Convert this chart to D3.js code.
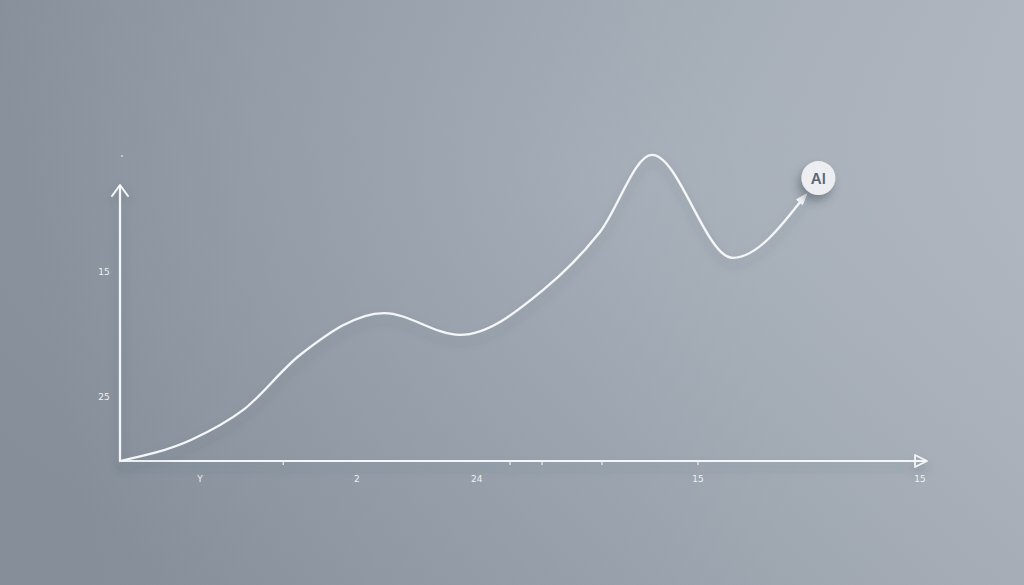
<!DOCTYPE html>
<html><head><meta charset="utf-8">
<script src="https://cdn.jsdelivr.net/npm/d3@7/dist/d3.min.js"></script>
<style>html,body{margin:0;padding:0;overflow:hidden;background:#9aa3ae}</style>
</head><body>
<script>
// data (domain units)
const curveX = [0, 9, 15.4, 22.5, 33, 42.5, 52.9, 60, 66.5, 76.6, 85.6];
const curveY = [0, 7.8, 18.5, 38.4, 53.6, 45.7, 62, 83, 110.9, 73.6, 96];
const xLabels = ["Y", "2", "24", "15", "15"];
const xLabelPos = [10, 29.6, 44.6, 72.25, 100];
const xTickPos = [20.4, 48.75, 52.75, 60.25, 72.25];
const yLabels = ["15", "25"];
const yLabelPos = [68.5, 23.2];
const badgeText = "AI";

const W = 1024, H = 585;
const svg = d3.select("body").append("svg").attr("width", W).attr("height", H);
const defs = svg.append("defs");
const bg = defs.append("linearGradient").attr("id","bg").attr("x1","0").attr("y1","0.1").attr("x2","1").attr("y2","0");
bg.append("stop").attr("offset","0").attr("stop-color","#8c95a1");
bg.append("stop").attr("offset","0.5").attr("stop-color","#9ea7b2");
bg.append("stop").attr("offset","1").attr("stop-color","#b3bac4");
svg.append("rect").attr("width",W).attr("height",H).attr("fill","url(#bg)");
const vg = defs.append("radialGradient").attr("id","vig").attr("cx","0.6").attr("cy","0.3").attr("r","0.8");
vg.append("stop").attr("offset","0").attr("stop-color","#ffffff").attr("stop-opacity",0.05);
vg.append("stop").attr("offset","1").attr("stop-color","#000000").attr("stop-opacity",0.05);
svg.append("rect").attr("width",W).attr("height",H).attr("fill","url(#vig)");

const sh = defs.append("filter").attr("id","sh").attr("x","-20%").attr("y","-20%").attr("width","140%").attr("height","160%");
sh.append("feDropShadow").attr("dx",0).attr("dy",6).attr("stdDeviation",5).attr("flood-color","#3d4550").attr("flood-opacity",0.25);
const bsh = defs.append("filter").attr("id","bsh").attr("x","-80%").attr("y","-80%").attr("width","260%").attr("height","260%");
bsh.append("feDropShadow").attr("dx",-3).attr("dy",6).attr("stdDeviation",5).attr("flood-color","#3d4550").attr("flood-opacity",0.45);

const x = d3.scaleLinear().domain([0,100]).range([120, 920]);
const y = d3.scaleLinear().domain([0,100]).range([461, 185]);

const stroke = "#f4f6f8";
// axes
const ax = svg.append("g").attr("filter","url(#sh)");
ax.append("line").attr("x1",x(0)).attr("y1",y(0)).attr("x2",x(0)).attr("y2",y(100)).attr("stroke",stroke).attr("stroke-width",2.2);
ax.append("path").attr("d",`M${x(0)-8},${y(100)+11}L${x(0)},${y(100)}L${x(0)+8},${y(100)+11}`).attr("fill","none").attr("stroke",stroke).attr("stroke-width",2).attr("stroke-linecap","round").attr("stroke-linejoin","round");
ax.append("line").attr("x1",x(0)).attr("y1",y(0)).attr("x2",x(100)+6).attr("y2",y(0)).attr("stroke",stroke).attr("stroke-width",2.2);
ax.append("path").attr("d",`M${x(100)-5},${y(0)-6}L${x(100)+7},${y(0)}L${x(100)-5},${y(0)+6}Z`).attr("fill","none").attr("stroke",stroke).attr("stroke-width",1.8).attr("stroke-linejoin","round");

// x ticks
ax.selectAll("line.tk").data(xTickPos).join("line").attr("class","tk")
  .attr("x1",d=>x(d)).attr("x2",d=>x(d)).attr("y1",y(0)).attr("y2",y(0)+4)
  .attr("stroke",stroke).attr("stroke-width",1.1);

// labels
svg.selectAll("text.xl").data(xLabels).join("text").attr("class","xl")
  .attr("x",(d,i)=>x(xLabelPos[i])).attr("y",y(0)+21).attr("text-anchor","middle")
  .attr("font-family","DejaVu Sans, sans-serif").attr("font-size",9).attr("fill","#eef1f4").text(d=>d);
svg.selectAll("text.yl").data(yLabels).join("text").attr("class","yl")
  .attr("x",x(0)-16).attr("y",(d,i)=>y(yLabelPos[i])+3).attr("text-anchor","middle")
  .attr("font-family","DejaVu Sans, sans-serif").attr("font-size",9).attr("fill","#eef1f4").text(d=>d);
svg.append("circle").attr("cx",x(0)+2).attr("cy",y(110.5)).attr("r",0.9).attr("fill","#dfe3e8");

// curve
const pts = curveX.map((v,i)=>[x(v), y(curveY[i])]);
const line = d3.line().curve(d3.curveMonotoneX);
svg.append("path").attr("d",line(pts)).attr("fill","none").attr("stroke",stroke)
  .attr("stroke-width",2.3).attr("stroke-linecap","round").attr("filter","url(#sh)");
// arrow head at end
const n = pts.length, p1 = pts[n-2], p2 = pts[n-1];
const ang = Math.atan2(p2[1]-p1[1], p2[0]-p1[0]) - 0.15;
const L = 9, a = 0.45;
svg.append("path").attr("d",`M${p2[0]+3*Math.cos(ang)},${p2[1]+3*Math.sin(ang)}L${p2[0]-L*Math.cos(ang-a)},${p2[1]-L*Math.sin(ang-a)}L${p2[0]-L*Math.cos(ang+a)},${p2[1]-L*Math.sin(ang+a)}Z`)
  .attr("fill",stroke).attr("stroke",stroke).attr("stroke-width",1).attr("stroke-linejoin","round");

// badge
const bx = x(87.3), by = y(102.5);
svg.append("circle").attr("cx",bx).attr("cy",by).attr("r",17).attr("fill","#eceef1").attr("filter","url(#bsh)");
svg.append("text").attr("x",bx).attr("y",by+5.5).attr("text-anchor","middle")
  .attr("font-family","Inter, Roboto, sans-serif").attr("font-weight",600).attr("font-size",15).attr("fill","#5c6570").text(badgeText);
</script>
</body></html>
